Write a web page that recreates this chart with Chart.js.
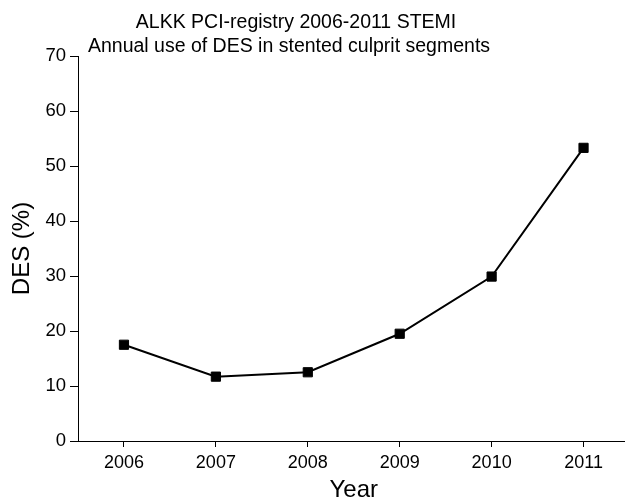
<!DOCTYPE html>
<html>
<head>
<meta charset="utf-8">
<script src="https://cdn.jsdelivr.net/npm/chart.js@4/dist/chart.umd.min.js"></script>
<style>
    html, body { margin: 0; padding: 0; background: #fff; overflow: hidden; }
    #wrap { width: 625px; height: 502px; overflow: hidden; }
</style>
</head>
<body>
<div id="wrap"><canvas id="chartDes" width="637" height="502"></canvas></div>
<script>
// Datos
const years = ['2006', '2007', '2008', '2009', '2010', '2011'];
const desPercent = [17.5, 11.7, 12.5, 19.5, 29.9, 53.3];
const titleLines = ['ALKK PCI-registry 2006-2011 STEMI', 'Annual use of DES in stented culprit segments'];
const yMin = 0;
const yMax = 70;
const yStep = 10;

const FONT = "Arial, 'Liberation Sans', sans-serif";

// Titulo dibujado a mano (no esta centrado sobre el canvas)
const titleX = [296, 289];
const titlePlugin = {
    id: 'titleText',
    afterDraw(chart) {
        const ctx = chart.ctx;
        ctx.save();
        ctx.fillStyle = '#000';
        ctx.font = `19.5px ${FONT}`;
        ctx.textAlign = 'center';
        ctx.textBaseline = 'middle';
        titleLines.forEach((line, i) => ctx.fillText(line, titleX[i], 23 + i * 23.5));
        ctx.restore();
    }
};

const ctx = document.getElementById('chartDes');
new Chart(ctx, {
    type: 'line',
    data: {
        labels: years,
        datasets: [{
            label: 'DES (%)',
            data: desPercent,
            borderColor: '#000',
            backgroundColor: '#000',
            borderWidth: 2,
            pointStyle: 'rect',
            pointRadius: 6.5,
            pointBorderWidth: 1,
            tension: 0,
            fill: false
        }]
    },
    options: {
        responsive: false,
        animation: false,
        layout: { padding: { top: 56, right: 1, bottom: 0, left: 0 } },
        plugins: {
            legend: { display: false },
            title: { display: false },
            tooltip: { enabled: false }
        },
        scales: {
            x: {
                offset: true,
                grid: { drawOnChartArea: false, drawTicks: true, tickLength: 6, color: '#000' },
                border: { color: '#000', width: 1 },
                ticks: { color: '#000', font: { family: FONT, size: 18 }, padding: 5, maxRotation: 0 },
                title: {
                    display: true, text: 'Year', color: '#000',
                    font: { family: FONT, size: 24, lineHeight: 1 }, padding: 0
                },
                afterFit: (scale) => { scale.height = 61; }
            },
            y: {
                min: yMin,
                max: yMax,
                grid: { drawOnChartArea: false, drawTicks: true, tickLength: 8, color: '#000' },
                border: { color: '#000', width: 1 },
                ticks: { stepSize: yStep, color: '#000', font: { family: FONT, size: 18.5 }, padding: 4 },
                title: {
                    display: true, text: 'DES (%)', color: '#000',
                    font: { family: FONT, size: 24, lineHeight: 1 }, padding: { top: 10, bottom: 0 }
                },
                afterFit: (scale) => { scale.width = 78; }
            }
        }
    },
    plugins: [titlePlugin]
});
</script>
</body>
</html>
